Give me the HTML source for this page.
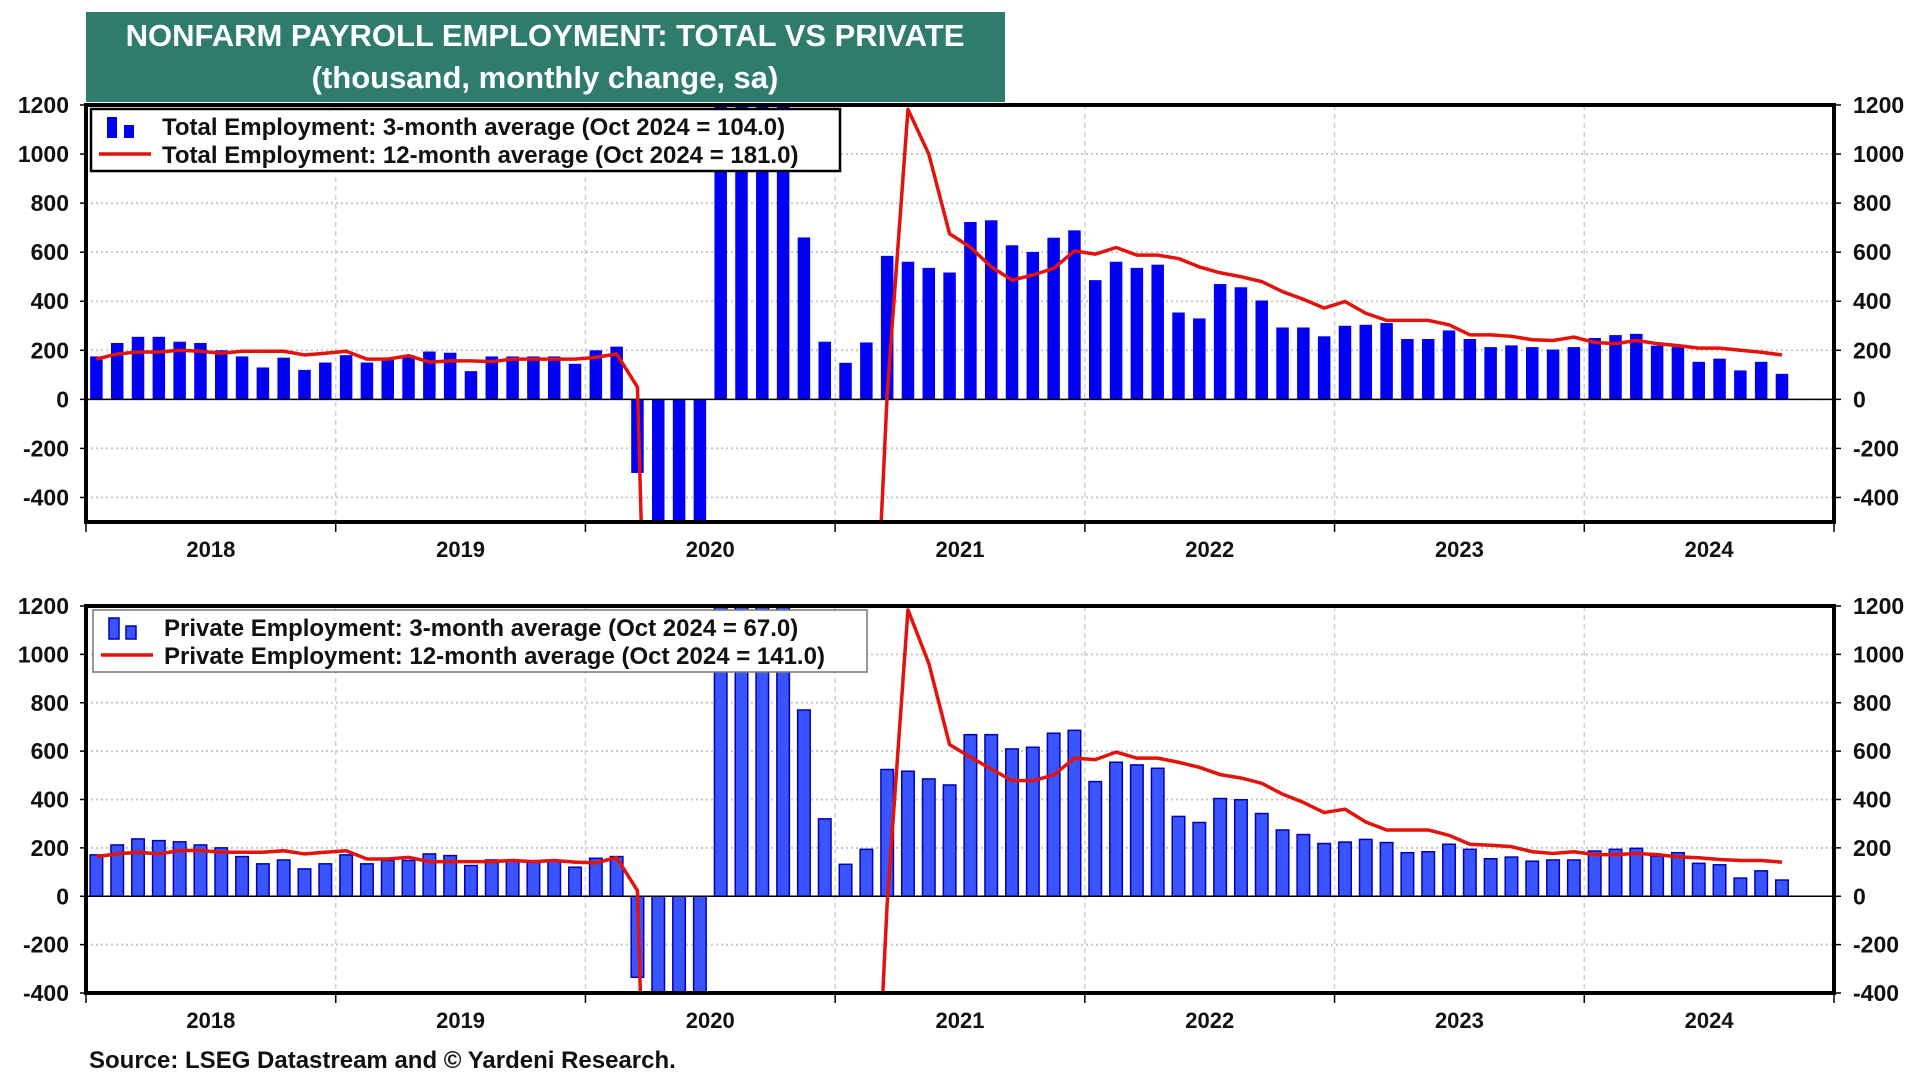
<!DOCTYPE html>
<html><head><meta charset="utf-8"><style>
html,body{margin:0;padding:0;background:#fff;width:1920px;height:1080px;overflow:hidden}
svg{display:block}
svg text{font-family:"Liberation Sans",Arial,sans-serif;font-weight:bold}
</style></head><body>
<svg id="chart" width="1920" height="1080" viewBox="0 0 1920 1080" xmlns="http://www.w3.org/2000/svg">
<rect x="86" y="12" width="919" height="90" fill="#2f7c6d"/>
<text x="545" y="46" font-size="31" fill="#fff" text-anchor="middle">NONFARM PAYROLL EMPLOYMENT: TOTAL VS PRIVATE</text>
<text x="545" y="88" font-size="31" fill="#fff" text-anchor="middle">(thousand, monthly change, sa)</text>
<g id="top"></g>
<g id="bot"></g>
<text x="89" y="1068" font-size="24" fill="#111">Source: LSEG Datastream and © Yardeni Research.</text>
</svg>
<script>
const years = ["2018","2019","2020","2021","2022","2023","2024"];
const yTicks = [1200,1000,800,600,400,200,0,-200,-400];
const totalBars = [175,230,255,255,235,230,200,175,130,170,120,150,
 180,150,165,180,195,190,115,175,175,175,175,145,
 200,215,-300,-4500,-4000,-4300,3100,2900,1300,1300,660,235,
 149,232,585,561,536,517,723,730,628,601,659,689,
 486,561,536,549,354,330,470,457,403,293,293,257,
 300,304,311,246,246,281,246,213,220,213,203,213,
 250,262,267,219,213,153,166,118,153,104];
const totalLine = [164,185,193,193,200,196,188,196,196,196,181,188,
 196,164,164,178,152,157,157,154,164,164,164,164,
 171,185,50,-3000,-2800,-2600,-2400,-2200,-2100,-2000,-1950,-1900,
 -1850,-1800,20,1182,1000,675,620,540,486,507,534,605,
 592,619,588,588,574,540,516,500,480,439,408,372,
 399,351,322,322,322,304,263,263,257,243,240,254,
 232,227,240,227,219,209,209,200,192,181];
const privBars = [171,212,237,230,225,212,200,164,134,150,113,134,
 171,134,148,148,175,168,127,150,150,141,148,120,
 157,164,-335,-4500,-4000,-4300,3000,2800,1300,1250,770,320,
 132,194,524,517,485,460,668,668,609,616,674,686,
 474,554,543,529,330,305,404,399,342,274,255,218,
 224,235,222,180,184,215,194,155,162,145,150,150,
 187,194,198,166,180,136,130,75,105,67];
const privLine = [164,175,182,175,189,189,182,182,182,188,175,182,
 188,154,154,161,143,143,143,143,148,143,148,141,
 138,160,23,-3000,-2800,-2600,-2400,-2200,-2100,-2000,-1950,-1900,
 -1850,-1800,-30,1184,963,627,575,526,478,478,501,571,
 565,596,571,571,554,533,503,489,467,422,388,346,
 360,307,274,274,274,252,215,211,205,184,177,184,
 172,172,177,172,163,159,152,148,148,141];

const NS="http://www.w3.org/2000/svg";
function mk(parent,tag,attrs){const e=document.createElementNS(NS,tag);for(const k in attrs)e.setAttribute(k,attrs[k]);parent.appendChild(e);return e;}

function panel(g, cfg){
  const X0=86, X1=1834, N=84, mw=(X1-X0)/N;
  const y=v=>cfg.top+(cfg.ymax-v)*(cfg.bottom-cfg.top)/(cfg.ymax-cfg.ymin);
  const x=i=>X0+(i+0.5)*mw;
  const cid='clip'+cfg.id;
  const cp=mk(g,'clipPath',{id:cid}); mk(cp,'rect',{x:X0,y:cfg.top,width:X1-X0,height:cfg.bottom-cfg.top});
  yTicks.forEach(t=>{ if(t<cfg.ymin) return;
    const gl=mk(g,'line',{x1:X0,x2:X1,y1:y(t),y2:y(t),stroke:'#c8c8c8','stroke-width':2,'stroke-dasharray':'2 3'});
    
    
    const tl=mk(g,'text',{x:69,y:y(t)+8,'font-size':23,'text-anchor':'end',fill:'#111'}); tl.textContent=t;
    
    
    const tr=mk(g,'text',{x:1853,y:y(t)+8,'font-size':23,fill:'#111'}); tr.textContent=t;
    
    
    mk(g,'line',{x1:X0-6,x2:X0,y1:y(t),y2:y(t),stroke:'#000','stroke-width':1.5});
    mk(g,'line',{x1:X1,x2:X1+7,y1:y(t),y2:y(t),stroke:'#000','stroke-width':1.5});
  });
  years.forEach((yr,k)=>{
    const bx=X0+k*12*mw;
    if(k>0){const vl=mk(g,'line',{x1:bx,x2:bx,y1:cfg.top,y2:cfg.bottom,stroke:'#d0d0d0','stroke-width':1.5,'stroke-dasharray':'5 4'});
      
      }
    mk(g,'line',{x1:bx,x2:bx,y1:cfg.bottom,y2:cfg.bottom+10,stroke:'#000','stroke-width':1.5});
    const t=mk(g,'text',{x:bx+6*mw,y:cfg.yearY,'font-size':22,'text-anchor':'middle',fill:'#111'}); t.textContent=yr;
    
    
  });
  mk(g,'line',{x1:X1,x2:X1,y1:cfg.bottom,y2:cfg.bottom+10,stroke:'#000','stroke-width':1.5});
  const cg=mk(g,'g',{'clip-path':'url(#'+cid+')'});
  const bw=12.5;
  cfg.bars.forEach((v,i)=>{
    const y0=y(0), yv=y(v);
    const r=mk(cg,'rect',{x:x(i)-bw/2,y:Math.min(y0,yv),width:bw,height:Math.abs(yv-y0),fill:cfg.barFill});
    if(cfg.barStroke){r.setAttribute('stroke',cfg.barStroke);r.setAttribute('stroke-width',1.5);}
    
    
  });
  mk(cg,'line',{x1:X0,x2:X1,y1:y(0),y2:y(0),stroke:'#000','stroke-width':1.5});
  const pl=mk(cg,'polyline',{points:cfg.line.map((v,i)=>x(i)+','+y(v)).join(' '),fill:'none',stroke:'#e3120b','stroke-width':3.5,'stroke-linejoin':'round'});
  
  
  const fr=mk(g,'rect',{x:X0,y:cfg.top,width:X1-X0,height:cfg.bottom-cfg.top,fill:'none',stroke:'#000','stroke-width':4});
  
  
  const L=cfg.leg;
  const lg=mk(g,'g',{});
  
  
  mk(lg,'rect',{x:L.x,y:L.y,width:L.w,height:62,fill:'#fff',stroke:cfg.legStroke,'stroke-width':cfg.legSW});
  const b1=mk(lg,'rect',{x:L.x+16,y:L.y+8,width:10,height:21,fill:cfg.barFill});
  const b2=mk(lg,'rect',{x:L.x+33,y:L.y+16,width:10,height:13,fill:cfg.barFill});
  if(cfg.barStroke){[b1,b2].forEach(b=>{b.setAttribute('stroke',cfg.barStroke);b.setAttribute('stroke-width',1.5);});}
  mk(lg,'line',{x1:L.x+8,x2:L.x+60,y1:L.y+45,y2:L.y+45,stroke:'#e3120b','stroke-width':3.5});
  const t1=mk(lg,'text',{x:L.x+71,y:L.y+26,'font-size':24,fill:'#111'}); t1.textContent=cfg.l1;
  
  
  const t2=mk(lg,'text',{x:L.x+71,y:L.y+54,'font-size':24,fill:'#111'}); t2.textContent=cfg.l2;
  
  
}
panel(document.getElementById('top'),{id:'t',top:105,bottom:522,ymax:1200,ymin:-500,yearY:557,bars:totalBars,line:totalLine,barFill:'#0000f5',barStroke:null,
  leg:{x:91,y:109,w:749},legStroke:'#000',legSW:2.5,
  l1:'Total Employment: 3-month average (Oct 2024 = 104.0)',l2:'Total Employment: 12-month average (Oct 2024 = 181.0)'});
panel(document.getElementById('bot'),{id:'b',top:606,bottom:993,ymax:1200,ymin:-400,yearY:1028,bars:privBars,line:privLine,barFill:'#3a55ff',barStroke:'#0000b8',
  leg:{x:93,y:610,w:774},legStroke:'#777',legSW:1.5,
  l1:'Private Employment: 3-month average (Oct 2024 = 67.0)',l2:'Private Employment: 12-month average (Oct 2024 = 141.0)'});
</script>
</body></html>
